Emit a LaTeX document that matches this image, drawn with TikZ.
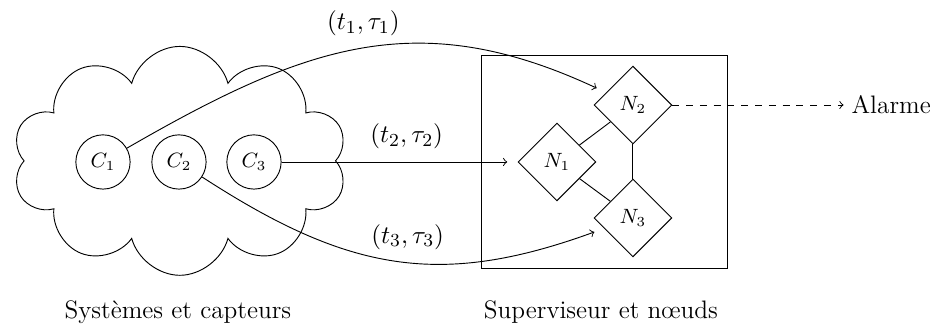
\documentclass[tikz,border=0pt]{standalone}
\usetikzlibrary{shapes.symbols,shapes.geometric}
\begin{document}
\begin{tikzpicture}[
  every node/.style={font=\fontsize{11}{13}\selectfont},
  capteur/.style={draw,circle,minimum size=0.83cm,inner sep=0pt,font=\small},
  noeud/.style={draw,diamond,minimum size=1.19cm,inner sep=0pt,font=\small},
  lien/.style={->,shorten >=4.5pt}]
\useasboundingbox (0,0) rectangle (14.39,-5.0);

\node[draw,cloud,cloud puffs=10,cloud puff arc=150,aspect=1.46,
  minimum width=5.12cm,minimum height=3.5cm] (nuage) at (2.75,-2.46) {};

\node[capteur] (c1) at (1.575,-2.477) {$C_1$};
\node[capteur] (c2) at (2.737,-2.477) {$C_2$};
\node[capteur] (c3) at (3.884,-2.477) {$C_3$};

\draw (7.355,-0.841) rectangle (11.13,-4.098);

\node[noeud] (n1) at (8.517,-2.477) {$N_1$};
\node[noeud] (n2) at (9.679,-1.606) {$N_2$};
\node[noeud] (n3) at (9.679,-3.333) {$N_3$};

\draw (n1) -- (n2);
\draw (n1) -- (n3);
\draw (n2) -- (n3);

\draw[lien] (c1) to[out=30,in=155,looseness=1.1]
  node[pos=0.5,above=2pt] {$(t_1,\tau_1)$} (n2);
\draw[lien] (c3) -- node[pos=0.53,above=2pt] {$(t_2,\tau_2)$} (n1);
\draw[lien] (c2) to[out=-33,in=200,looseness=1.1]
  node[pos=0.53,above=2pt] {$(t_3,\tau_3)$} (n3);

\node[anchor=west] (alarme) at (12.9,-1.606) {Alarme};
\draw[->,dashed] (n2) -- (alarme);

\node at (2.72,-4.77) {Systèmes et capteurs};
\node at (9.19,-4.77) {Superviseur et nœuds};
\end{tikzpicture}
\end{document}
